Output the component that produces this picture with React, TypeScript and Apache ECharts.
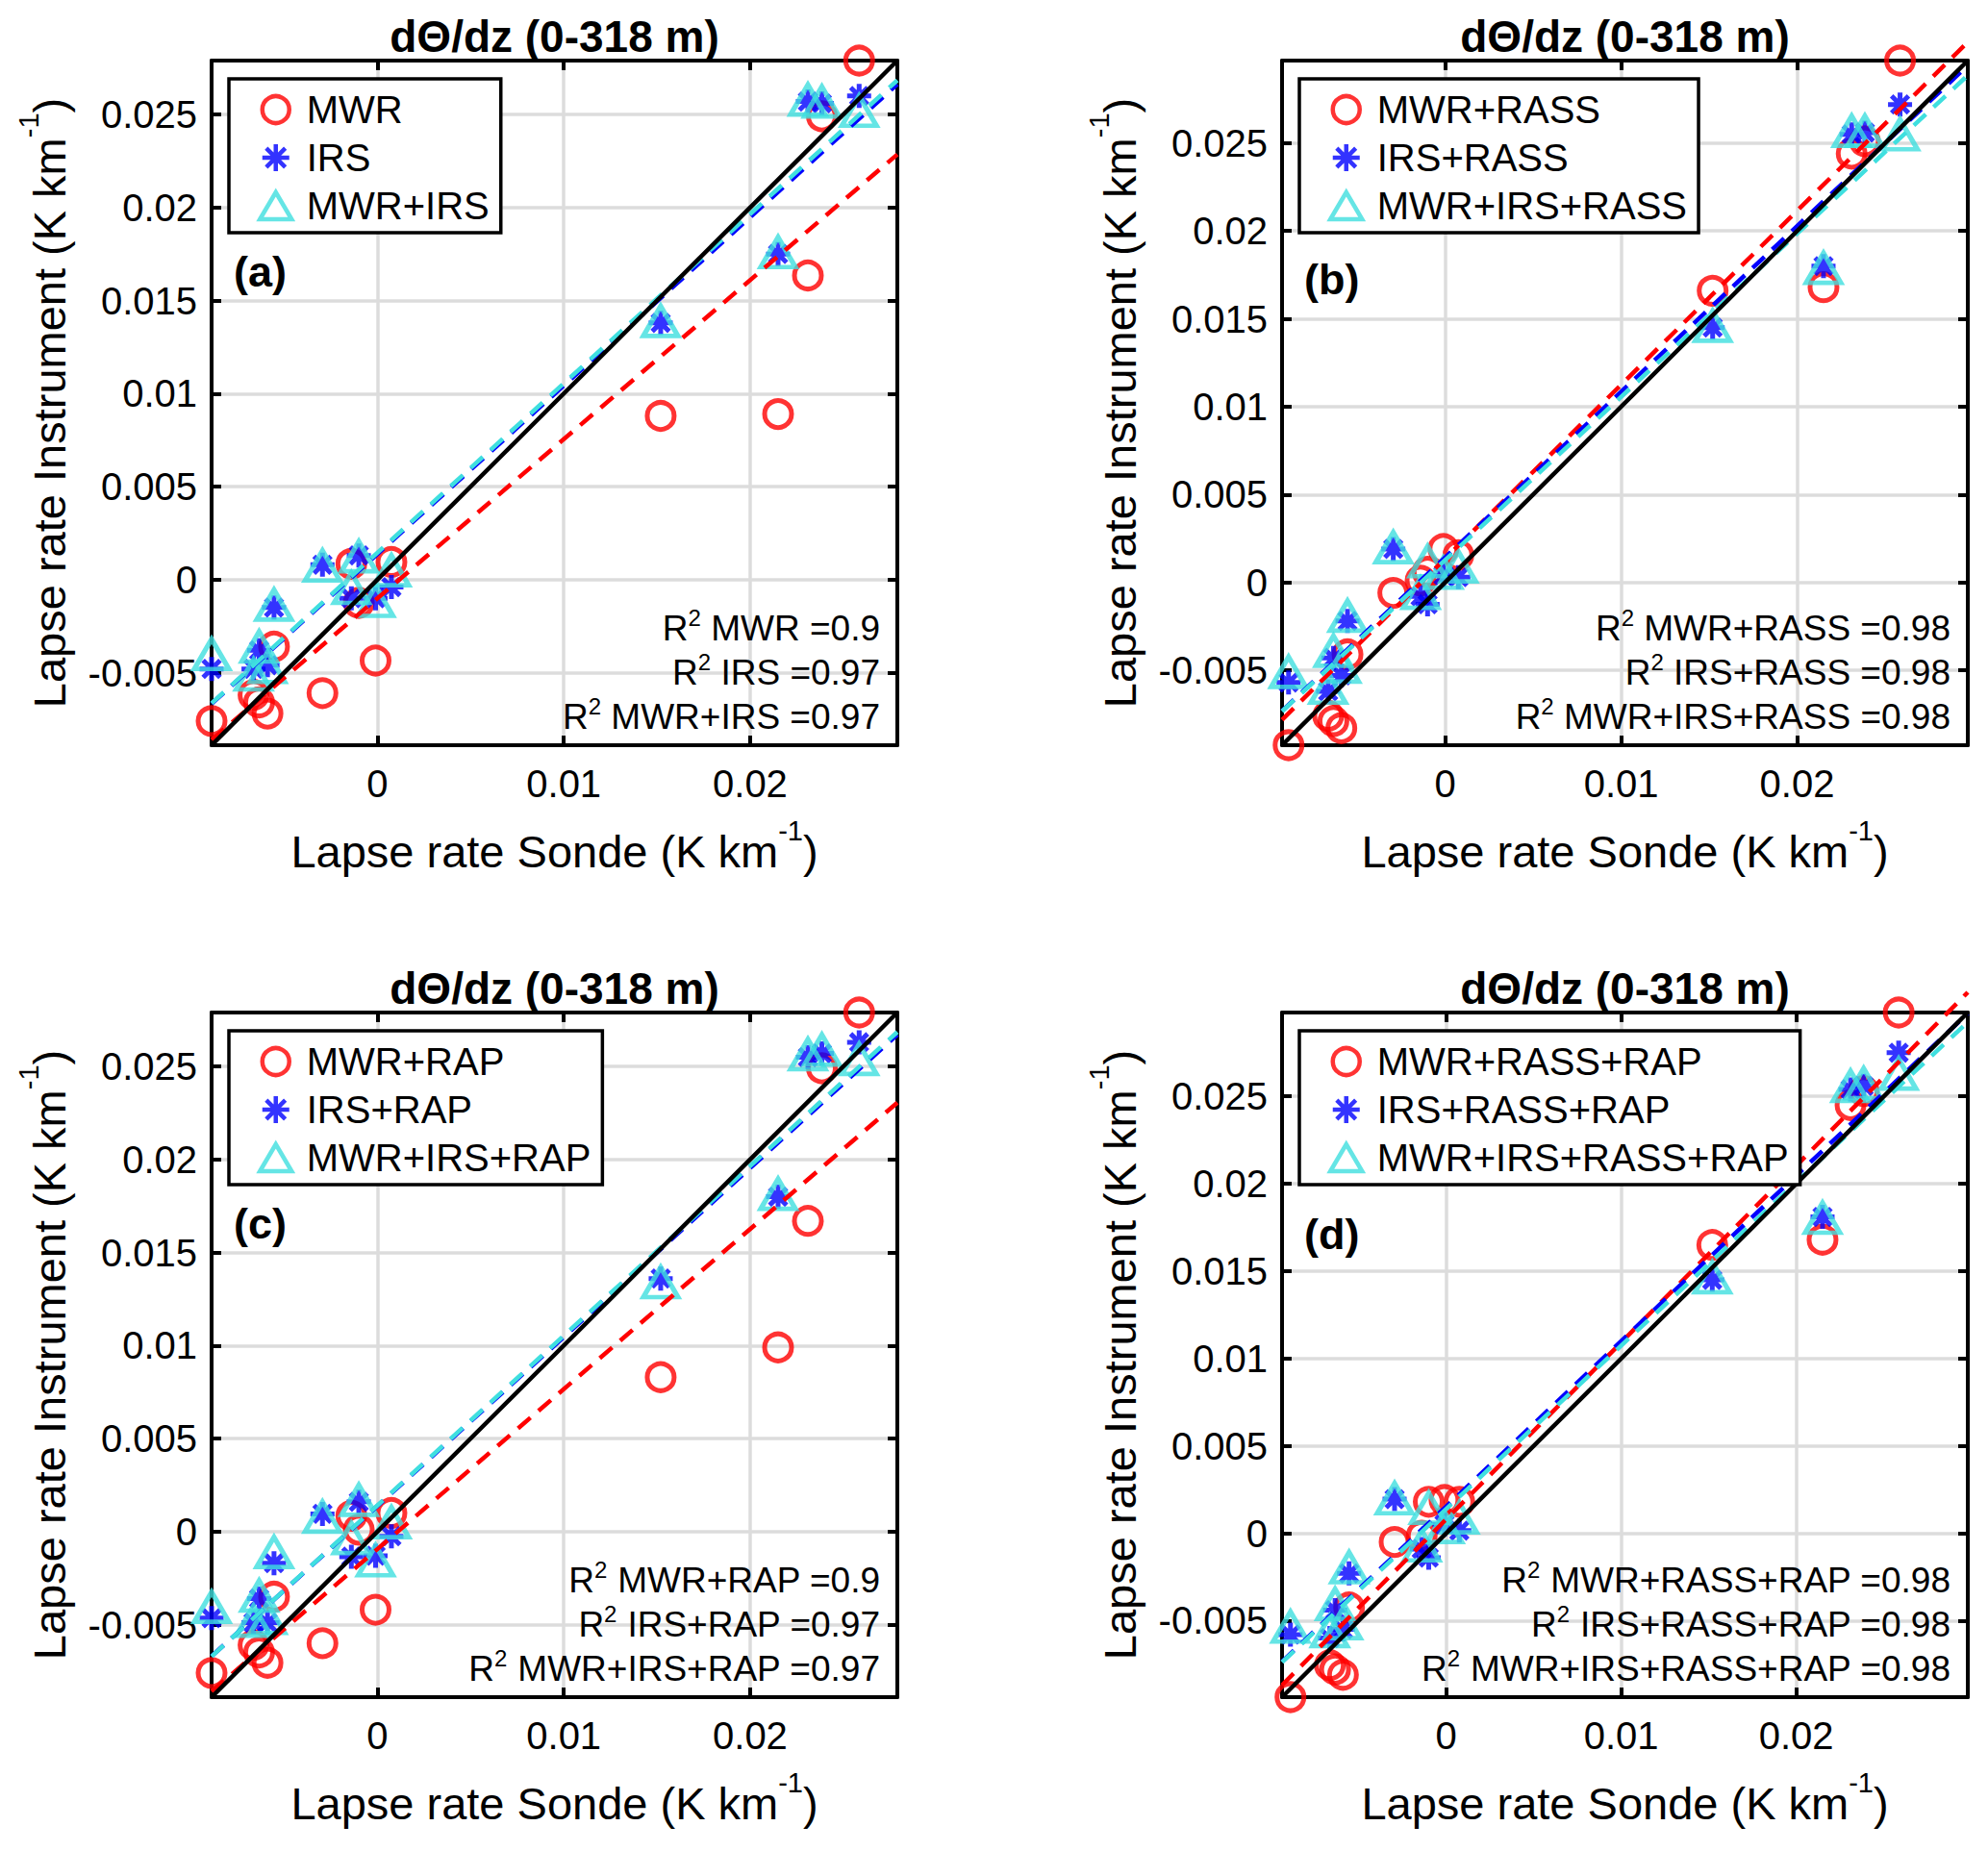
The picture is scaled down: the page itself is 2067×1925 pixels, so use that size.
import { useEffect, useRef } from 'react'
import * as echarts from 'echarts'

// Lapse rate from the sondes (K km-1), shared by every panel
const sondeRate = [-0.0089, -0.00665, -0.00635, -0.0059, -0.00555, -0.00295, -0.0014, -0.001, -0.0001, 0.00075, 0.0152, 0.0215, 0.0231, 0.02385, 0.02585]

// (a) single instruments
const mwr = [-0.0076, -0.0062, -0.0066, -0.0072, -0.0036, -0.0061, 0.00085, -0.00125, -0.00435, 0.00095, 0.0088, 0.0089, 0.01635, 0.0249, 0.0279]
const irs = [-0.0048, -0.0048, -0.0038, -0.0046, -0.0015, 0.0008, -0.001, 0.0013, -0.001, -0.0004, 0.0138, 0.0175, 0.0257, 0.0256, 0.026]
const mwrIrs = [-0.004, -0.0051, -0.0036, -0.0047, -0.00135, 0.00075, -0.00045, 0.00125, -0.00115, 0.0005, 0.0139, 0.0176, 0.0258, 0.0257, 0.0252]

// (b) + RASS
const mwrRass = [-0.00927, -0.0076, -0.0079, -0.0083, -0.0041, -0.0006, 0.0001, 0.0006, 0.0019, 0.00155, 0.0166, 0.0168, 0.0244, 0.0251, 0.0297]
const irsRass = [-0.0057, -0.0062, -0.0043, -0.0053, -0.0022, 0.0019, -0.0008, -0.00125, 0.0004, 0.0003, 0.0145, 0.018, 0.0255, 0.0256, 0.0272]
const mwrIrsRass = [-0.0051, -0.006, -0.0039, -0.0048, -0.0019, 0.002, -0.0006, 0.0012, 0.00055, 0.0009, 0.0146, 0.0179, 0.0257, 0.0257, 0.0255]

// (c) + RAP
const mwrRap = [-0.0076, -0.0061, -0.0065, -0.00705, -0.0035, -0.006, 0.00085, 0.0001, -0.0042, 0.001, 0.0083, 0.0099, 0.0167, 0.0249, 0.0279]
const irsRap = [-0.00465, -0.0049, -0.0036, -0.0049, -0.0017, 0.00095, -0.00135, 0.0016, -0.0013, -0.00025, 0.0136, 0.018, 0.0255, 0.0257, 0.0263]
const mwrIrsRap = [-0.00405, -0.0048, -0.00345, -0.00465, -0.0011, 0.0008, -0.00035, 0.0017, -0.00155, 0.0005, 0.0134, 0.01815, 0.02565, 0.0259, 0.0254]

// (d) + RASS + RAP
const mwrRassRap = [-0.00938, -0.00755, -0.0078, -0.0081, -0.00425, -0.0005, -0.00015, 0.0018, 0.0019, 0.0018, 0.0165, 0.0168, 0.0245, 0.0253, 0.0298]
const irsRassRap = [-0.0058, -0.006, -0.0044, -0.0055, -0.0023, 0.00195, -0.0009, -0.0014, 0.0005, 0.00015, 0.0145, 0.0181, 0.0254, 0.0256, 0.0275]
const mwrIrsRassRap = [-0.00535, -0.0056, -0.00405, -0.00515, -0.00195, 0.002, -0.0007, 0.00145, 0.00035, 0.0009, 0.01465, 0.01805, 0.0256, 0.02575, 0.0263]

// linear fits: [slope, intercept]
const fitsA = [[0.855, -0.001], [0.905, 0.00138], [0.91, 0.00145]]
const fitsB = [[0.99, 0.00135], [0.943, 0.00142], [0.929, 0.00127]]
const fitsC = [[0.86, -0.00094], [0.908, 0.00138], [0.912, 0.00141]]
const fitsD = [[1.012, 0.0008], [0.947, 0.00153], [0.935, 0.00139]]

const r2A = ['0.9', '0.97', '0.97']
const r2B = ['0.98', '0.98', '0.98']
const r2C = ['0.9', '0.97', '0.97']
const r2D = ['0.98', '0.98', '0.98']

const TITLE = 'dΘ/dz (0-318 m)'
const X_NAME = 'Lapse rate Sonde (K km{s|-1})'
const Y_NAME = 'Lapse rate Instrument (K km{s|-1})'

const FONT = '"Liberation Sans", Arial, Helvetica, sans-serif'
const RED = '#ff0000'
const BLUE = '#0000ff'
const CYAN = '#3fdfdf'
const ASTERISK = 'path://M10 0L10 20M0 10L20 10M2.93 2.93L17.07 17.07M2.93 17.07L17.07 2.93'
const TRIANGLE = 'path://M0 28L16.5 0L33 28Z'

const GRID_W = 713
const GRID_H = 712
const GRID_LEFT = [220, 1333, 220, 1333]
const GRID_TOP = [63, 63, 1053, 1053]

const panels = [
  { tag: '(a)', tagDy: 219, names: ['MWR', 'IRS', 'MWR+IRS'], values: [mwr, irs, mwrIrs], fits: fitsA, r2: r2A },
  { tag: '(b)', tagDy: 227, names: ['MWR+RASS', 'IRS+RASS', 'MWR+IRS+RASS'], values: [mwrRass, irsRass, mwrIrsRass], fits: fitsB, r2: r2B },
  { tag: '(c)', tagDy: 219, names: ['MWR+RAP', 'IRS+RAP', 'MWR+IRS+RAP'], values: [mwrRap, irsRap, mwrIrsRap], fits: fitsC, r2: r2C },
  { tag: '(d)', tagDy: 230, names: ['MWR+RASS+RAP', 'IRS+RASS+RAP', 'MWR+IRS+RASS+RAP'], values: [mwrRassRap, irsRassRap, mwrIrsRassRap], fits: fitsD, r2: r2D }
]

const markers: any[] = [
  { symbol: 'circle', symbolSize: 28, itemStyle: { color: 'rgba(0,0,0,0)', borderColor: RED, borderWidth: 5 } },
  { symbol: ASTERISK, symbolSize: 25, itemStyle: { color: BLUE, borderColor: BLUE, borderWidth: 5 } },
  { symbol: TRIANGLE, symbolSize: [36, 31], itemStyle: { color: 'rgba(0,0,0,0)', borderColor: CYAN, borderWidth: 5 } }
]
const fitColors = [RED, BLUE, CYAN]

const tickFmt = (v: number) => String(parseFloat(v.toFixed(4)))

const nameStyle = {
  fontSize: 47,
  fontFamily: FONT,
  color: '#000',
  lineHeight: 52,
  rich: {
    s: { fontSize: 29, height: 10, lineHeight: 10, verticalAlign: 'top', fontFamily: FONT, color: '#000' }
  }
}

function makeAxis(i: number, isX: boolean, main: boolean, lo: number, hi: number) {
  const step = isX ? 0.01 : 0.005
  return {
    type: 'value',
    gridIndex: i,
    position: isX ? (main ? 'bottom' : 'top') : (main ? 'left' : 'right'),
    min: lo,
    max: hi,
    minInterval: step,
    maxInterval: step,
    axisLine: { show: true, onZero: false, lineStyle: { color: '#000', width: 4 } },
    axisTick: { show: true, inside: true, length: 10, lineStyle: { color: '#000', width: 4 } },
    axisLabel: main
      ? {
          show: true,
          fontSize: 40,
          lineHeight: 40,
          fontFamily: FONT,
          color: '#000',
          margin: isX ? 20 : 15,
          showMinLabel: false,
          showMaxLabel: false,
          formatter: tickFmt
        }
      : { show: false },
    splitLine: main ? { show: true, lineStyle: { color: '#dcdcdc', width: 3.5 } } : { show: false },
    name: main ? (isX ? X_NAME : Y_NAME) : '',
    nameLocation: 'middle',
    nameGap: isX ? 84 : 143,
    nameMoveOverlap: false,
    nameTextStyle: nameStyle
  }
}

export default function App() {
  const chartRef = useRef<HTMLDivElement>(null)

  useEffect(() => {
    if (!chartRef.current) return
    const chart = echarts.init(chartRef.current, undefined, { renderer: 'svg' })

    const grid: any[] = []
    const xAxis: any[] = []
    const yAxis: any[] = []
    const series: any[] = []
    const legend: any[] = []
    const title: any[] = []
    const graphic: any[] = []

    panels.forEach((p, i) => {
      const left = GRID_LEFT[i]
      const top = GRID_TOP[i]
      const all = [...sondeRate, ...p.values.flat()]
      const lo = Math.min(...all)
      const hi = Math.max(...all)

      grid.push({ left, top, width: GRID_W, height: GRID_H, containLabel: false, outerBoundsMode: 'none' })
      xAxis.push(makeAxis(i, true, true, lo, hi), makeAxis(i, true, false, lo, hi))
      yAxis.push(makeAxis(i, false, true, lo, hi), makeAxis(i, false, false, lo, hi))

      // instrument points
      p.values.forEach((vals, k) => {
        series.push({
          name: p.names[k],
          type: 'scatter',
          xAxisIndex: i * 2,
          yAxisIndex: i * 2,
          clip: false,
          z: 3,
          ...markers[k],
          data: sondeRate.map((x, j) => [x, vals[j]])
        })
      })

      // fit lines
      p.fits.forEach(([a, b], k) => {
        series.push({
          name: 'fit ' + p.names[k],
          type: 'line',
          xAxisIndex: i * 2,
          yAxisIndex: i * 2,
          clip: false,
          z: 4,
          symbol: 'none',
          lineStyle: { color: fitColors[k], width: 4.5, type: [17, 11] },
          data: [[lo, a * lo + b], [hi, a * hi + b]]
        })
      })

      // 1:1 line
      series.push({
        name: '1:1 ' + p.tag,
        type: 'line',
        xAxisIndex: i * 2,
        yAxisIndex: i * 2,
        clip: false,
        z: 5,
        symbol: 'none',
        lineStyle: { color: '#000', width: 4.5 },
        data: [[lo, lo], [hi, hi]]
      })

      legend.push({
        data: p.names,
        left: left + 18,
        top: top + 19,
        orient: 'vertical',
        selectedMode: false,
        backgroundColor: '#fff',
        borderColor: '#000',
        borderWidth: 3.5,
        borderRadius: 0,
        padding: [12, 12, 8, 30],
        itemGap: 10,
        itemWidth: 54,
        itemHeight: 28,
        symbolKeepAspect: true,
        itemStyle: { borderWidth: 4.5 },
        textStyle: { fontSize: 40, lineHeight: 40, fontFamily: FONT, color: '#000' },
        z: 10
      })

      title.push({
        text: TITLE,
        left: left + GRID_W / 2,
        top: top - 50,
        textAlign: 'center',
        padding: 0,
        textStyle: { fontSize: 46, lineHeight: 50, fontWeight: 'bold', fontFamily: FONT, color: '#000' }
      })

      graphic.push({
        type: 'text',
        x: left + 23,
        y: top + p.tagDy,
        z: 20,
        style: { text: p.tag, font: `bold 45px ${FONT}`, fill: '#000', verticalAlign: 'middle' }
      })

      const r2Offsets = [122, 76, 30]
      p.names.forEach((n, k) => {
        graphic.push({
          type: 'text',
          x: left + GRID_W - 18,
          y: top + GRID_H - r2Offsets[k],
          z: 20,
          style: {
            text: `{m|R}{s|2}{m| ${n} =${p.r2[k]}}`,
            align: 'right',
            verticalAlign: 'middle',
            fill: '#000',
            rich: {
              m: { fontSize: 37, lineHeight: 42, fontFamily: FONT, fill: '#000' },
              s: { fontSize: 24, height: 20, lineHeight: 20, verticalAlign: 'top', fontFamily: FONT, fill: '#000' }
            }
          }
        })
      })
    })

    chart.setOption({
      animation: false,
      backgroundColor: '#ffffff',
      textStyle: { fontFamily: FONT },
      title,
      legend,
      grid,
      xAxis,
      yAxis,
      series,
      graphic
    })

    return () => {
      chart.dispose()
    }
  }, [])

  return (
    <div
      ref={chartRef}
      style={{ position: 'absolute', left: 0, top: 0, width: '2067px', height: '1925px', background: '#fff' }}
    />
  )
}
